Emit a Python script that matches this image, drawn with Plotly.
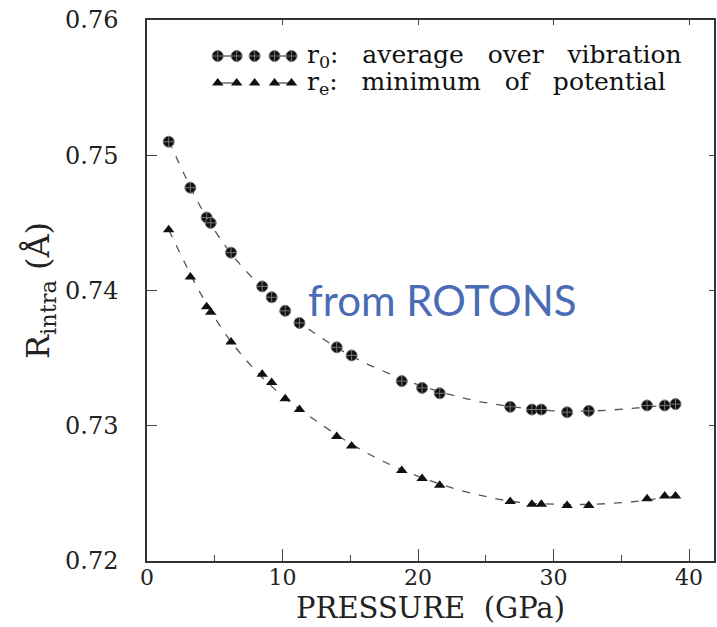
import plotly.graph_objects as go

# ---- data ----
pressure = [1.6, 3.2, 4.4, 4.7, 6.2, 8.5, 9.2, 10.2, 11.25, 14.0, 15.1, 18.8,
            20.3, 21.6, 26.8, 28.4, 29.1, 31.0, 32.6, 36.9, 38.2, 39.0]
r0 = [0.7510, 0.7476, 0.7454, 0.7450, 0.7428, 0.7403, 0.7395, 0.7385, 0.7376,
      0.7358, 0.7352, 0.7333, 0.7328, 0.7324, 0.7314, 0.7312, 0.7312, 0.7310,
      0.7311, 0.7315, 0.7315, 0.7316]
re = [0.7445, 0.7410, 0.7388, 0.7384, 0.7362, 0.7338, 0.7332, 0.7320, 0.7312,
      0.7292, 0.7285, 0.7267, 0.7261, 0.7256, 0.7244, 0.7242, 0.7242, 0.7241,
      0.7241, 0.7246, 0.7248, 0.7248]

# dashed fit curves
fit_p = [1.6, 4, 6, 8, 10, 12, 15, 18, 21, 24, 27, 30, 33, 36, 39]
fit_r0 = [0.7511, 0.7461, 0.7430, 0.7407, 0.7387, 0.7371, 0.7352, 0.7338,
          0.7327, 0.7319, 0.7314, 0.7311, 0.7311, 0.7313, 0.7316]
fit_re = [0.7445, 0.7397, 0.7365, 0.7341, 0.7322, 0.7307, 0.7287, 0.7271,
          0.7259, 0.7250, 0.7244, 0.7242, 0.7242, 0.7244, 0.7248]

x_ticks = [0, 10, 20, 30, 40]
y_ticks = [0.72, 0.73, 0.74, 0.75, 0.76]
SP = "\u00a0\u00a0\u00a0"
legend_labels = [f"r<sub>0</sub>:{SP}average{SP}over{SP}vibration",
                 f"r<sub>e</sub>:{SP}minimum{SP}of{SP}potential"]
annotation_text = "from ROTONS"

SERIF = "DejaVu Serif"
XR = [0, 41.84]
YR = [0.72, 0.76]
dash = "8px,9px"

fig = go.Figure()

fig.add_trace(go.Scatter(x=fit_p, y=fit_r0, mode="lines", line=dict(color="#555", width=1.3, dash=dash, shape="spline"),
                         showlegend=False, hoverinfo="skip"))
fig.add_trace(go.Scatter(x=fit_p, y=fit_re, mode="lines", line=dict(color="#555", width=1.3, dash=dash, shape="spline"),
                         showlegend=False, hoverinfo="skip"))
fig.add_trace(go.Scatter(x=pressure, y=r0, mode="markers",
                         marker=dict(symbol="circle-cross", size=11, color="#111", line=dict(color="#777", width=1)),
                         showlegend=False))
fig.add_trace(go.Scatter(x=pressure, y=re, mode="markers",
                         marker=dict(symbol="triangle-up", size=10, color="#111", line=dict(width=0)),
                         showlegend=False))

# empty trace to keep mirror axes alive
fig.add_trace(go.Scatter(x=[], y=[], xaxis="x2", yaxis="y2", showlegend=False, hoverinfo="skip"))

# legend key drawn on a hidden pixel-like axis
kx = [218, 237, 255, 275, 292]
fig.add_trace(go.Scatter(x=[kx[0], kx[1], None, kx[3], kx[4]], y=[56, 56, None, 56, 56], mode="lines",
                         line=dict(color="#444", width=1.2), xaxis="x3", yaxis="y3", showlegend=False, hoverinfo="skip"))
fig.add_trace(go.Scatter(x=kx, y=[56] * 5, mode="markers",
                         marker=dict(symbol="circle-cross", size=11, color="#111", line=dict(color="#777", width=1)),
                         xaxis="x3", yaxis="y3", showlegend=False, hoverinfo="skip"))
fig.add_trace(go.Scatter(x=[kx[0], kx[1], None, kx[3], kx[4]], y=[83, 83, None, 83, 83], mode="lines",
                         line=dict(color="#444", width=1.2), xaxis="x3", yaxis="y3", showlegend=False, hoverinfo="skip"))
fig.add_trace(go.Scatter(x=kx, y=[83] * 5, mode="markers",
                         marker=dict(symbol="triangle-up", size=10, color="#111"),
                         xaxis="x3", yaxis="y3", showlegend=False, hoverinfo="skip"))

for lbl, yy in zip(legend_labels, [56, 83]):
    fig.add_annotation(x=306, y=yy, xref="x3", yref="y3", text=lbl, showarrow=False,
                       xanchor="left", yanchor="middle", font=dict(family=SERIF, size=25, color="#111"))

fig.add_annotation(x=443, y=300, xref="x3", yref="y3", text=annotation_text, showarrow=False,
                   xanchor="center", yanchor="middle", font=dict(family="Lato", size=42, color="#4a6cb4"))

fig.update_layout(
    width=717, height=627,
    margin=dict(l=147, r=1, t=20, b=66),
    plot_bgcolor="white", paper_bgcolor="white",
    xaxis=dict(range=XR, tickvals=x_ticks, ticktext=[str(v) for v in x_ticks], ticks="inside", ticklen=12,
               tickcolor="#444", tickwidth=1.2,
               minor=dict(dtick=5, tick0=0, ticks="inside", ticklen=6, tickcolor="#444"),
               showline=True, linecolor="#333", linewidth=1.5, mirror=True, showgrid=False, zeroline=False,
               tickfont=dict(family=SERIF, size=22, color="#222"), ticklabelstandoff=-4,
               title=dict(text="PRESSURE\u00a0\u00a0(GPa)", font=dict(family=SERIF, size=29, color="#222"), standoff=9)),
    yaxis=dict(range=YR, tickvals=y_ticks, ticktext=[f"{v:.2f}" for v in y_ticks], ticks="inside", ticklen=10,
               tickcolor="#444", tickwidth=1.2,
               showline=True, linecolor="#333", linewidth=1.5, mirror=True, showgrid=False, zeroline=False,
               tickfont=dict(family=SERIF, size=24, color="#222"), ticklabelstandoff=22,
               title=dict(text="R<sub>intra</sub> (Å)", font=dict(family=SERIF, size=32, color="#222"), standoff=6)),
    xaxis2=dict(overlaying="x", side="top", range=XR, tickvals=x_ticks[1:], ticks="inside", ticklen=5,
                tickcolor="#444", showticklabels=False, showgrid=False, zeroline=False, showline=False),
    yaxis2=dict(overlaying="y", side="right", range=YR, tickvals=y_ticks[1:-1], ticks="inside", ticklen=5,
                tickcolor="#444", showticklabels=False, showgrid=False, zeroline=False, showline=False),
    xaxis3=dict(overlaying="x", range=[147, 716], visible=False),
    yaxis3=dict(overlaying="y", range=[561, 20], visible=False),
)

fig.write_html("out.html")
